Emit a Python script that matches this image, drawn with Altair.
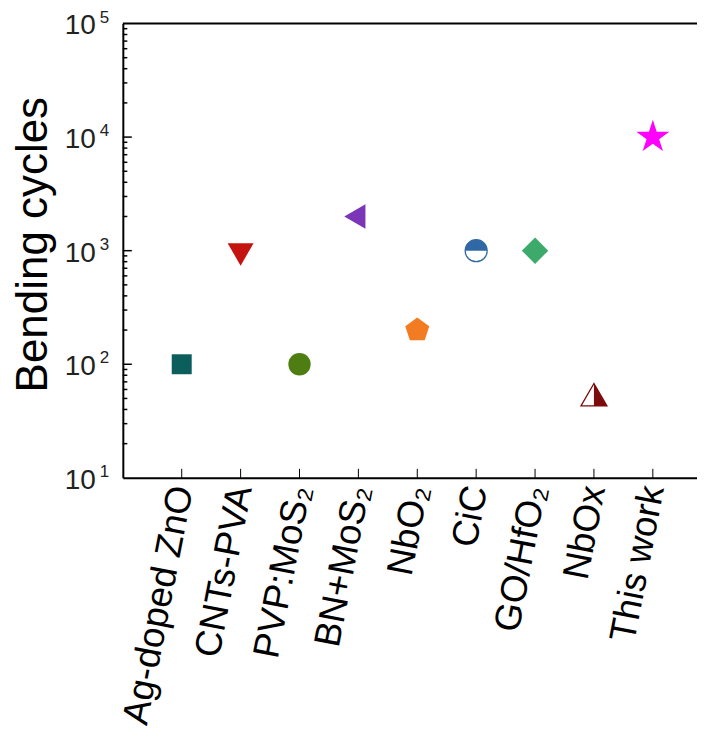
import json
import altair as alt
import pandas as pd

# ---- data ----
cats = ["Ag-doped ZnO", "CNTs-PVA", "PVP:MoS\u2082", "BN+MoS\u2082", "NbO\u2082",
        "CiC", "GO/HfO\u2082", "NbOx", "This work"]
cycles = [100, 1000, 100, 2000, 200, 1000, 1000, 50, 10000]
colors = ["#0b5e5b", "#c4120f", "#4e7d12", "#7b36b8", "#f37c22",
          "#3068a6", "#3baa6b", "#7c0b0b", "#ff00ff"]

# marker shapes (custom paths in the unit box)
TRI_DOWN = "M-1,-0.577L1,-0.577L0,1.155Z"
TRI_LEFT = "M-1.155,0L0.577,-1L0.577,1Z"
TRI_UP = "M0,-1.155L1,0.577L-1,0.577Z"
TRI_UP_RIGHT = "M0,-1.155L1,0.577L0,0.577Z"
HALF_TOP = "M-1,0A1,1 0 0,1 1,0Z"
PENTAGON = "M0,-1L0.951,-0.309L0.588,0.809L-0.588,0.809L-0.951,-0.309Z"
STAR = ("M0,-1L0.2245,-0.309L0.951,-0.309L0.363,0.118L0.588,0.809L0,0.382"
        "L-0.588,0.809L-0.363,0.118L-0.951,-0.309L-0.2245,-0.309Z")

shapes = ["square", TRI_DOWN, "circle", TRI_LEFT, PENTAGON,
          HALF_TOP, "diamond", TRI_UP_RIGHT, STAR]
sizes = [400, 676, 500, 600, 640, 484, 700, 676, 1200]

# half-filled markers get an outline underneath
outline_cats = ["CiC", "NbOx"]
outline_shapes = ["circle", TRI_UP]

y_ticks = [10, 100, 1000, 10000, 100000]
y_exps = ["1", "2", "3", "4", "5"]
major_inner = [100, 1000, 10000]
minor_ticks = [m * 10 ** k for k in range(1, 5) for m in range(2, 10)]

FONT = "Liberation Sans, Arial, Helvetica, sans-serif"
W, H = 575, 455
XMAX = 9.75

idx = list(range(1, len(cats) + 1))
df = pd.DataFrame({"idx": idx, "cat": cats, "cycles": cycles, "color": colors,
                   "shape": shapes, "size": sizes})
odf = df[df["cat"].isin(outline_cats)].copy()
odf["shape"] = outline_shapes

xs = alt.Scale(domain=[0, XMAX], nice=False, zero=False)
ys = alt.Scale(type="log", domain=[10, 100000], nice=False)

label_expr = json.dumps(cats, ensure_ascii=False) + "[datum.value - 1]"

x_axis = alt.Axis(values=idx, labelExpr=label_expr, labelAngle=-79, labelFontSize=37,
                  labelFont=FONT, labelColor="black", labelPadding=8, labelOverlap=False,
                  labelFlush=False, labelBound=False, labelLimit=0, ticks=False, tickSize=0,
                  grid=False, domain=True, domainColor="black", domainWidth=2, title="")
y_axis = alt.Axis(values=y_ticks, labels=False, ticks=False, tickSize=0, grid=False, domain=True,
                  domainColor="black", domainWidth=2, title="Bending cycles",
                  titleFont=FONT, titleFontSize=44, titleFontWeight="normal",
                  titleColor="black", titleAngle=-90, titleX=-76, titleY=221,
                  titleAlign="center", titleBaseline="alphabetic")

X = lambda f: alt.X(f, scale=xs, axis=x_axis)
Y = lambda f: alt.Y(f, scale=ys, axis=y_axis)

outline = alt.Chart(odf).mark_point(filled=True, fill="white", opacity=1, strokeWidth=1.3).encode(
    x=X("idx:Q"), y=Y("cycles:Q"),
    stroke=alt.Stroke("color:N", scale=None),
    shape=alt.Shape("shape:N", scale=None),
    size=alt.Size("size:Q", scale=None),
)

points = alt.Chart(df).mark_point(filled=True, opacity=1, strokeWidth=0).encode(
    x=X("idx:Q"), y=Y("cycles:Q"),
    color=alt.Color("color:N", scale=None),
    shape=alt.Shape("shape:N", scale=None),
    size=alt.Size("size:Q", scale=None),
)

xtick_rules = alt.Chart(pd.DataFrame({"idx": idx})).mark_rule(color="black", strokeWidth=1).encode(
    x=X("idx:Q"), y=alt.value(H), y2=alt.value(H - 9),
)

ymaj = alt.Chart(pd.DataFrame({"cycles": major_inner})).mark_rule(color="black", strokeWidth=1.5).encode(
    y=Y("cycles:Q"), x=alt.value(0), x2=alt.value(9),
)
ymin = alt.Chart(pd.DataFrame({"cycles": minor_ticks})).mark_rule(color="black", strokeWidth=1.5).encode(
    y=Y("cycles:Q"), x=alt.value(0), x2=alt.value(4.5),
)

top_line = alt.Chart(pd.DataFrame({"cycles": [100000]})).mark_rule(color="black", strokeWidth=2).encode(
    y=Y("cycles:Q"),
)

ylab_df = pd.DataFrame({"cycles": y_ticks, "exp": y_exps})
ylab_base = alt.Chart(ylab_df).mark_text(align="right", baseline="middle", fontSize=28,
                                         font=FONT, color="#222222", dy=3).encode(
    y=Y("cycles:Q"), x=alt.value(-27), text=alt.value("10"),
)
ylab_exp = alt.Chart(ylab_df).mark_text(align="left", baseline="middle", fontSize=17,
                                        font=FONT, color="#222222", dy=-6).encode(
    y=Y("cycles:Q"), x=alt.value(-23), text=alt.Text("exp:N"),
)

chart = alt.layer(
    outline, points, xtick_rules, ymaj, ymin, top_line, ylab_base, ylab_exp
).properties(
    width=W, height=H,
    autosize=alt.AutoSizeParams(type="none"),
    padding={"left": 115, "top": 15, "right": 0, "bottom": 254},
).configure_view(stroke=None)

chart.save("out.html", embed_options={"renderer": "svg", "actions": False})
